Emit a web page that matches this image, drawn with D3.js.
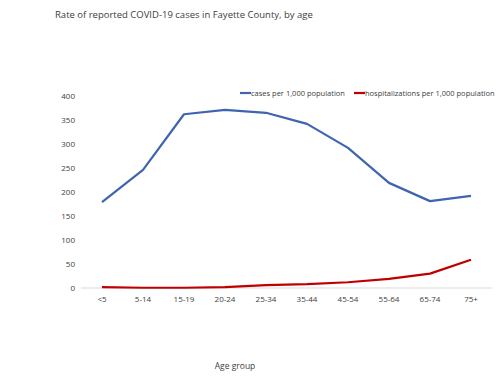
<!DOCTYPE html>
<html><head><meta charset="utf-8">
<script src="https://cdn.jsdelivr.net/npm/d3@7"></script>
<style>body{margin:0;background:#fff}svg{display:block}text{font-family:"Open Sans",sans-serif;fill:#404040}</style>
</head><body><svg width="500" height="379"></svg>
<script>
const categories = ["<5","5-14","15-19","20-24","25-34","35-44","45-54","55-64","65-74","75+"];
const cases = [179,246,362,371,365,342,292,219,181,192];
const hosp = [2,0.5,0.5,2,6,8,12,19,30,59];
const yTicks = [0,50,100,150,200,250,300,350,400];
const seriesNames = ["cases per 1,000 population","hospitalizations per 1,000 population"];
const colors = ["#3F64B0","#C00000"];

const svg = d3.select("svg");
const x = d3.scalePoint().domain(categories).range([102,471]);
const y = d3.scaleLinear().domain([0,400]).range([288,96]);

svg.append("text").attr("x",55).attr("y",18).attr("font-size",9.5).text("Rate of reported COVID-19 cases in Fayette County, by age");

svg.append("line").attr("x1",81).attr("x2",492).attr("y1",y(0)).attr("y2",y(0)).attr("stroke","#d9d9d9").attr("stroke-width",1);

yTicks.forEach(t=>{
  svg.append("text").attr("x",75).attr("y",y(t)+3).attr("text-anchor","end").attr("font-size",8).text(t);
});
categories.forEach(c=>{
  svg.append("text").attr("x",x(c)).attr("y",302).attr("text-anchor","middle").attr("font-size",8).text(c);
});
svg.append("text").attr("x",235).attr("y",369).attr("text-anchor","middle").attr("font-size",8.5).text("Age group");

const line = d3.line().x((d,i)=>x(categories[i])).y(d=>y(d));
[cases,hosp].forEach((s,k)=>{
  svg.append("path").attr("d",line(s)).attr("fill","none").attr("stroke",colors[k]).attr("stroke-width",2.2).attr("stroke-linejoin","round");
});

const leg = [[240,seriesNames[0]],[354,seriesNames[1]]];
leg.forEach(([lx,name],k)=>{
  svg.append("line").attr("x1",lx).attr("x2",lx+11).attr("y1",93).attr("y2",93).attr("stroke",colors[k]).attr("stroke-width",2.2);
  svg.append("text").attr("x",lx+11).attr("y",96).attr("font-size",7.5).text(name);
});
</script></body></html>
